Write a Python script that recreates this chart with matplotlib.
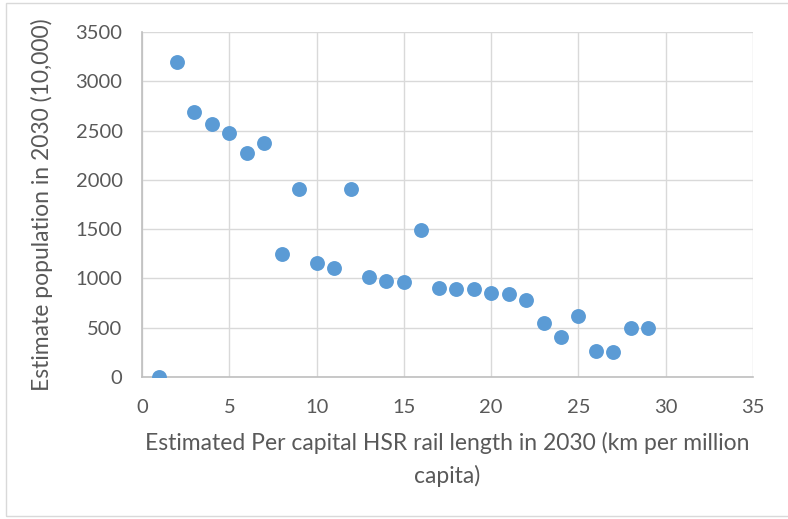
import matplotlib
matplotlib.use("Agg")
import matplotlib.pyplot as plt
from matplotlib.patches import Rectangle

# Per-capita HSR rail length (km per million capita) vs. estimated population (10,000)
hsr_length = [1, 2, 3, 4, 5, 6, 7, 8, 9, 10, 11, 12, 13, 14, 15,
              16, 17, 18, 19, 20, 21, 22, 23, 24, 25, 26, 27, 28, 29]
population = [0, 3200, 2690, 2570, 2480, 2270, 2370, 1250, 1910, 1160, 1110, 1910, 1010, 970, 960,
              1490, 905, 895, 890, 855, 845, 780, 545, 410, 615, 260, 255, 500, 500]

x_ticks = [0, 5, 10, 15, 20, 25, 30, 35]
y_ticks = [0, 500, 1000, 1500, 2000, 2500, 3000, 3500]

plt.rcParams['font.family'] = ['Lato', 'DejaVu Sans']

text_color = '#595959'
fig = plt.figure(figsize=(7.88, 5.19), dpi=100)
ax = fig.add_axes([0.1802, 0.2736, 0.7754, 0.6647])

ax.scatter(hsr_length, population, s=115, color='#5B9BD5', zorder=3, linewidths=0)

ax.set_xlim(0, 35)
ax.set_ylim(0, 3500)
ax.set_xticks(x_ticks)
ax.set_yticks(y_ticks)
ax.grid(True, color='#d9d9d9', linewidth=1.0, zorder=0)
ax.set_axisbelow(True)

for side in ['top', 'right']:
    ax.spines[side].set_visible(False)
for side in ['left', 'bottom']:
    ax.spines[side].set_color('#bfbfbf')
    ax.spines[side].set_linewidth(1.2)

ax.tick_params(axis='both', length=0, labelsize=14.5, labelcolor=text_color)
ax.tick_params(axis='x', pad=16)
ax.tick_params(axis='y', pad=14)

ax.set_xlabel('Estimated Per capital HSR rail length in 2030 (km per million\ncapita)',
              fontsize=16.5, color=text_color, labelpad=11, linespacing=1.6)
ax.set_ylabel('Estimate population in 2030 (10,000)', fontsize=16.5, color=text_color, labelpad=16)

# chart-area border
fig.patches.append(Rectangle((6 / 788, 3 / 519), 1.2, 1 - 6 / 519, transform=fig.transFigure,
                             fill=False, edgecolor='#d9d9d9', linewidth=1.0))

fig.savefig('out.png', dpi=100)
